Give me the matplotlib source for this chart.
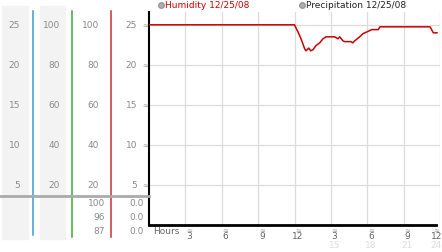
import matplotlib.pyplot as plt
import matplotlib.transforms as mtransforms
from matplotlib.lines import Line2D
from matplotlib.patches import Rectangle

# Humidity trace (hours, value on the 0-25 scale)
hours = [0, 12.0, 12.29, 12.54, 12.84, 12.95, 13.17, 13.34, 13.53, 13.77, 14.08,
         14.35, 14.6, 15.32, 15.59, 15.73, 16.0, 16.14, 16.66, 16.82, 16.96,
         17.38, 17.65, 17.95, 18.37, 18.91, 19.05, 23.18, 23.45, 23.75]
humidity = [25, 25, 24.1, 23.25, 22.0, 21.75, 22.1, 21.75, 21.9, 22.4, 22.75,
            23.25, 23.5, 23.5, 23.25, 23.5, 23.0, 22.9, 22.9, 22.75, 23.0,
            23.5, 23.9, 24.1, 24.4, 24.4, 24.75, 24.75, 24.0, 24.0]

y_ticks = [25, 20, 15, 10, 5]
col1_labels = ['25', '20', '15', '10', '5']
col2_labels = ['100', '80', '60', '40', '20']
col3_labels = ['100', '80', '60', '40', '20']
col4_labels = ['25', '20', '15', '10', '5']
col3_bottom = ['100', '96', '87']
col4_bottom = ['0.0', '0.0', '0.0']

x_ticks = [3, 6, 9, 12, 15, 18, 21, 24]
x_labels = ['3', '6', '9', '12', '3', '6', '9', '12']
x_labels2 = ['', '', '', '', '15', '18', '21', '24']

W, H = 442, 253
fig = plt.figure(figsize=(W / 100, H / 100), dpi=100)


def fx(px):
    return px / W


def fy(py):
    return 1 - py / H


ax = fig.add_axes([fx(149), fy(226), fx(440) - fx(149), fy(13) - fy(226)])
ax.set_xlim(0, 24)
ax.set_ylim(0, 26.6)
ax.plot(hours, humidity, color='#cc0000', lw=1.1, zorder=3)

ax.set_xticks(x_ticks)
ax.set_yticks(y_ticks)
ax.set_xticklabels([])
ax.set_yticklabels([])
ax.tick_params(length=0)
ax.grid(True, color='#dcdcdc', lw=0.9)
for s in ['top', 'right']:
    ax.spines[s].set_visible(False)
ax.spines['left'].set_linewidth(1.5)
ax.spines['bottom'].set_linewidth(2)
ax.spines['bottom'].set_bounds(0, 23.7)

grey = '#8a8a8a'
fs = 6.5
ty = mtransforms.blended_transform_factory(fig.transFigure, ax.transData)
tx = mtransforms.blended_transform_factory(ax.transData, fig.transFigure)

# left panel backgrounds and divider lines
for x0, x1 in [(2, 28), (40, 65)]:
    fig.add_artist(Rectangle((fx(x0), fy(240)), fx(x1) - fx(x0), fy(7) - fy(240),
                             transform=fig.transFigure, color='#f3f3f3', zorder=0))
for xp, c, yb in [(33, '#3a9ad0', 236), (72, '#3aaa3a', 238), (111, '#c83232', 238)]:
    fig.add_artist(Line2D([fx(xp), fx(xp)], [fy(12), fy(yb)], color=c, lw=1.1,
                          transform=fig.transFigure))
fig.add_artist(Line2D([0, fx(149)], [fy(197), fy(197)], color='#aaaaaa', lw=2,
                      transform=fig.transFigure))

# stacked scale labels
for labels, xr in [(col1_labels, 20), (col2_labels, 60), (col3_labels, 99), (col4_labels, 137)]:
    for v, s in zip(y_ticks, labels):
        fig.text(fx(xr), v, s, transform=ty, ha='right', va='center', fontsize=fs, color=grey)
for v in y_ticks:
    fig.text(fx(145), v, '≈', transform=ty, ha='center', va='center', fontsize=5, color='#999999')

for i, yp in enumerate([204, 218, 232]):
    fig.text(fx(105), fy(yp), col3_bottom[i], ha='right', va='center', fontsize=fs, color=grey)
    fig.text(fx(144), fy(yp), col4_bottom[i], ha='right', va='center', fontsize=fs, color=grey)

# hour labels
fig.text(fx(153), fy(232), 'Hours', ha='left', va='center', fontsize=fs, color='#666666')
for xv, s1, s2 in zip(x_ticks, x_labels, x_labels2):
    off = 0.3 if xv < 24 else -0.3
    fig.text(xv + off, fy(230.5), '≈', transform=tx, ha='center', va='center', fontsize=5, color='#999999')
    fig.text(xv + off, fy(237), s1, transform=tx, ha='center', va='center', fontsize=fs, color='#666666')
    if s2:
        fig.text(xv + off, fy(246), s2, transform=tx, ha='center', va='center', fontsize=fs, color='#dddddd')

# legend
for xc, label, col in [(161, 'Humidity 12/25/08', '#cc0000'), (302, 'Precipitation 12/25/08', '#222222')]:
    fig.add_artist(Line2D([fx(xc)], [fy(6)], marker='o', markersize=4, color='#b0b0b0',
                          markeredgecolor='#999999', transform=fig.transFigure))
    fig.text(fx(xc + 4), fy(6), label, ha='left', va='center', fontsize=fs, color=col)

fig.savefig('out.png', dpi=100)
